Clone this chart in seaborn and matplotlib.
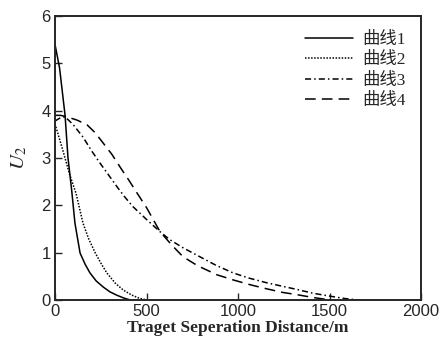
import matplotlib
matplotlib.use("Agg")
import matplotlib.pyplot as plt
import seaborn as sns
import pandas as pd

sns.set_style("ticks")
plt.rcParams['font.family'] = ['Liberation Sans', 'DejaVu Sans']
plt.rcParams['mathtext.fontset'] = 'stix'

# Data
x1 = [0, 25, 55, 71, 91, 109, 137, 165, 191, 225, 264, 300, 337, 375, 410]
y1 = [5.4, 4.9, 3.9, 3.0, 2.32, 1.62, 0.99, 0.75, 0.57, 0.4, 0.27, 0.17, 0.1, 0.04, 0.0]

x2 = [0, 40, 80, 115, 153, 185, 219, 250, 283, 330, 372, 420, 464, 500]
y2 = [3.72, 3.2, 2.65, 2.25, 1.62, 1.28, 1.0, 0.78, 0.57, 0.35, 0.21, 0.1, 0.03, 0.0]

x3 = [0, 30, 55, 100, 153, 200, 246, 300, 339, 380, 426, 500, 574, 628, 700, 792,
      880, 973, 1060, 1158, 1240, 1322, 1410, 1500, 1580, 1650]
y3 = [3.78, 3.85, 3.87, 3.7, 3.44, 3.15, 2.89, 2.6, 2.39, 2.18, 1.97, 1.7, 1.44, 1.27,
      1.1, 0.91, 0.73, 0.57, 0.46, 0.36, 0.29, 0.22, 0.14, 0.08, 0.03, 0.0]

x4 = [0, 30, 64, 120, 175, 220, 262, 310, 355, 400, 448, 500, 574, 640, 700, 780,
      885, 975, 1066, 1150, 1240, 1322, 1410, 1500]
y4 = [3.9, 3.9, 3.87, 3.8, 3.7, 3.53, 3.32, 3.08, 2.81, 2.55, 2.26, 1.95, 1.44, 1.15,
      0.91, 0.72, 0.53, 0.42, 0.32, 0.24, 0.16, 0.11, 0.05, 0.0]

labels = ["曲线1", "曲线2", "曲线3", "曲线4"]
xticks = [0, 500, 1000, 1500, 2000]
yticks = [0, 1, 2, 3, 4, 5, 6]

series = [(x1, y1, '-'), (x2, y2, (0, (1, 1))), (x3, y3, (0, (4, 2, 1, 2))), (x4, y4, (0, (7, 4)))]

fig = plt.figure(figsize=(4.4, 3.4), dpi=100)
ax = fig.add_axes([0.125, 0.118, 0.832, 0.835])

for (xs, ys, ls), lab in zip(series, labels):
    df = pd.DataFrame({'x': xs, 'y': ys})
    sns.lineplot(data=df, x='x', y='y', ax=ax, color='black', linestyle=ls,
                 linewidth=1.1, label=lab, sort=False, estimator=None)

ax.set_xlim(0, 2000)
ax.set_ylim(0, 6)
ax.set_xticks(xticks)
ax.set_yticks(yticks)
ax.tick_params(direction='in', length=5, width=1, labelsize=12, pad=3,
               top=False, right=False)
for s in ax.spines.values():
    s.set_linewidth(1.4)
    s.set_visible(True)

ax.set_xlabel("Traget Seperation Distance/m", fontfamily=['Liberation Serif'],
              fontsize=12.5, fontweight='bold', labelpad=1)
ax.set_ylabel(r"$U_2$", fontsize=15, labelpad=9)

leg = ax.legend(loc='upper right', frameon=False, handlelength=2.8, handletextpad=0.5,
                labelspacing=0.25, borderaxespad=0.5,
                prop={'family': ['Liberation Serif', 'Noto Sans CJK SC'], 'size': 12.5})

fig.savefig("out.png", dpi=100)
